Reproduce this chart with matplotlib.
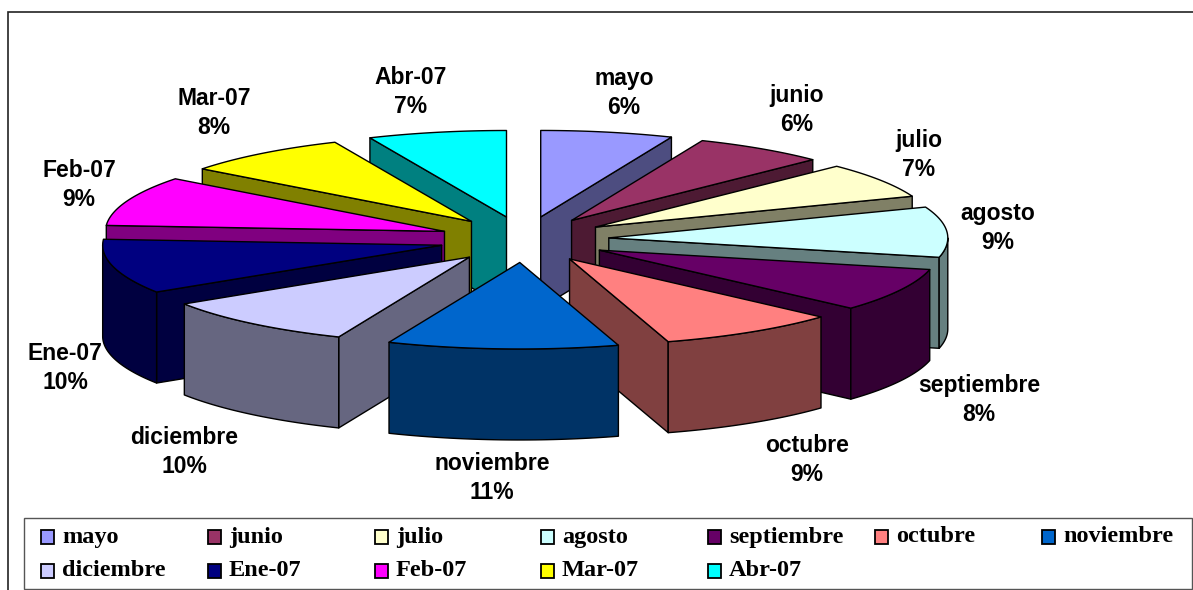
import numpy as np
import matplotlib
matplotlib.use("Agg")
import matplotlib.pyplot as plt
from matplotlib.patches import Polygon, Rectangle

# --- data (percent shares) ---
categories = ["mayo", "junio", "julio", "agosto", "septiembre", "octubre",
              "noviembre", "diciembre", "Ene-07", "Feb-07", "Mar-07", "Abr-07"]
shares = [6.3, 6.3, 6.6, 9.4, 8.1, 8.6, 11.0, 9.6, 10.2, 9.3, 8.0, 6.6]
colors = ["#9999FF", "#993366", "#FFFFCC", "#CCFFFF", "#660066", "#FF8080",
          "#0066CC", "#CCCCFF", "#000080", "#FF00FF", "#FFFF00", "#00FFFF"]

# --- layout ---
W, H = 1193, 590
CX, CY = 524.0, 239.5      # pie centre
RX, RY = 339.0, 86.5       # ellipse radii of the tilted pie
EX, EY = 85.0, 23.0        # explosion offset radii
DEPTH = 91.0               # extrusion height
EDGE = "black"
LW = 1.0
label_xy = [(624, 93), (797, 110), (919, 155), (998, 228), (979, 400), (807, 460),
            (492, 478), (184, 452), (65, 368), (79, 185), (214, 113), (411, 92)]
legend_x = [41, 208, 375, 541, 708, 875, 1042, 41, 208, 375, 541, 708]
legend_y = [536.5, 536.5, 536.5, 536.5, 536.5, 536.5, 536.5,
            570.5, 570.5, 570.5, 570.5, 570.5]

fig = plt.figure(figsize=(W / 100, H / 100), dpi=100)
ax = fig.add_axes([0, 0, 1, 1])
ax.set_xlim(0, W)
ax.set_ylim(H, 0)
ax.axis("off")


def darken(c):
    r, g, b = matplotlib.colors.to_rgb(c)
    return (r * 0.5, g * 0.5, b * 0.5)


def rim(t, apex):
    return np.column_stack([apex[0] + RX * np.sin(t), apex[1] - RY * np.cos(t)])


def poly(points, face):
    ax.add_patch(Polygon(points, closed=True, facecolor=face, edgecolor=EDGE,
                         linewidth=LW, joinstyle="round"))


edges = np.radians(np.concatenate([[0], np.cumsum(shares)]) * 3.6)
slices = []
for i in range(len(shares)):
    t1, t2 = edges[i], edges[i + 1]
    mid = (t1 + t2) / 2
    apex = (CX + EX * np.sin(mid), CY - EY * np.cos(mid))
    slices.append((apex[1], i, t1, t2, apex))

down = np.array([0, DEPTH])
for _, i, t1, t2, apex in sorted(slices, key=lambda s: s[0]):
    side = darken(colors[i])
    a = np.array(apex)
    # radial cut faces that look toward the viewer
    if np.sin(t2) > 0:
        p = rim(np.array([t2]), apex)[0]
        poly([a, p, p + down, a + down], side)
    if np.sin(t1) < 0:
        p = rim(np.array([t1]), apex)[0]
        poly([a, p, p + down, a + down], side)
    # outer curved wall (front half only)
    lo, hi = max(t1, np.pi / 2), min(t2, 3 * np.pi / 2)
    if hi > lo:
        arc = rim(np.linspace(lo, hi, 40), apex)
        poly(np.vstack([arc, arc[::-1] + down]), side)
    # top face
    arc = rim(np.linspace(t1, t2, 60), apex)
    poly(np.vstack([a, arc]), colors[i])

# data labels
for name, v, (x, y) in zip(categories, shares, label_xy):
    ax.text(x, y, f"{name}\n{round(v)}%", ha="center", va="center",
            family="Liberation Sans", weight="bold", fontsize=16.5,
            linespacing=1.32, color="black", zorder=20)

# chart frame (top and left only)
ax.plot([7.5, 7.5, W], [H, 11.5, 11.5], color="#222222", lw=1.2, zorder=1,
        solid_joinstyle="miter")

# legend
ax.add_patch(Rectangle((24, 518), 1168, 71, facecolor="white",
                       edgecolor="#555555", linewidth=1.0, zorder=5))
for name, c, x, y in zip(categories, colors, legend_x, legend_y):
    ax.add_patch(Rectangle((x, y - 7), 13, 14, facecolor=c, edgecolor="black",
                           linewidth=1.3, zorder=6))
    ax.text(x + 21, y + 0.5, name, ha="left", va="center",
            family="Liberation Serif", weight="bold", fontsize=17.5, zorder=6)

fig.savefig("out.png", dpi=100)
